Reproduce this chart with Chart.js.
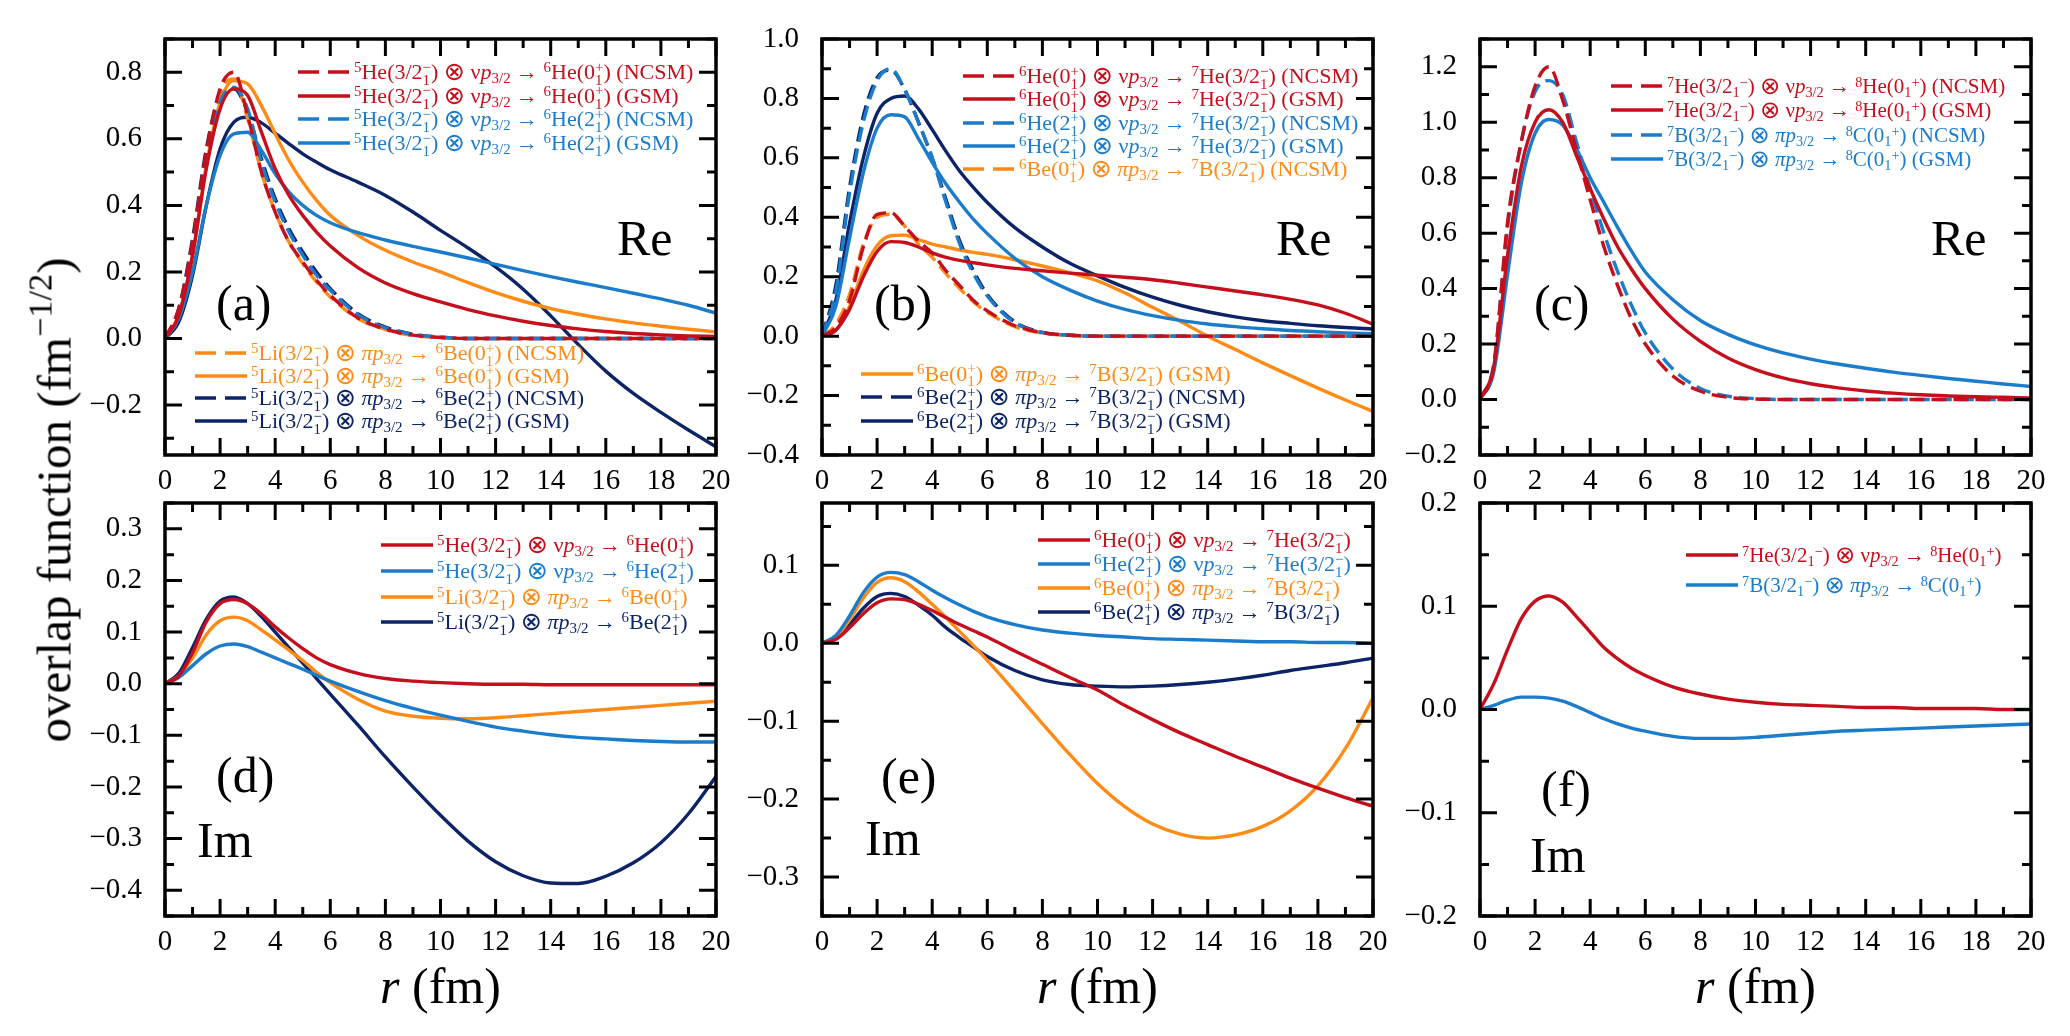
<!DOCTYPE html>
<html>
<head>
<meta charset="utf-8">
<title>overlap functions</title>
<script src="https://cdn.jsdelivr.net/npm/chart.js@4.4.1/dist/chart.umd.min.js"></script>
<style>
  body { margin: 0; background: #fff; }
  #fig { position: relative; width: 2070px; height: 1036px; overflow: hidden; background: #fff;
         font-family: 'Liberation Serif', 'Times New Roman', serif; color: #000; }
  .box { position: absolute; }
  .txt { position: absolute; white-space: nowrap; }
  .big { font-size: 50px; line-height: 50px; }
  .row { position: absolute; white-space: nowrap; font-size: 22px; line-height: 24px; height: 24px; }
  .row.sm { font-size: 21px; }
  .row svg { position: absolute; left: 0; top: 9px; }
  .row .t { position: absolute; top: 0px; }
  .ot { font-family: 'DejaVu Sans', sans-serif; font-size: 1.15em; line-height: 0; vertical-align: -0.05em; }
  sup, sub { font-size: 0.68em; line-height: 0; }
  sup { vertical-align: 0.45em; }
  sub { vertical-align: -0.3em; }
  .stk { display: inline-flex; flex-direction: column; font-size: 0.68em; line-height: 0.9; vertical-align: 0.5em; }
  #ytitle { font-size: 49px; line-height: 49px; transform: translate(-50%, -50%) rotate(-90deg); }
  #ytitle sup { font-size: 0.7em; vertical-align: 0.55em; }
</style>
</head>
<body>
<div id="fig"></div>
<script>
// radial grid (fm)
const r = [0, 0.5, 1, 1.5, 2, 2.5, 3, 3.5, 4, 4.5, 5, 5.5, 6, 7, 8, 9, 10, 11, 12, 13, 14, 15, 16, 17, 18, 19, 20];

// (a) 5He/5Li -> 6He/6Be, real part
const aHe0N = [0, 0.09, 0.29, 0.56, 0.75, 0.80, 0.67, 0.50, 0.38, 0.29, 0.23, 0.175, 0.13, 0.062, 0.028, 0.01, 0.003, 0, 0, 0, 0, 0, 0, 0, 0, 0, 0];
const aHe0G = [0, 0.07, 0.25, 0.51, 0.69, 0.75, 0.73, 0.62, 0.51, 0.43, 0.37, 0.32, 0.278, 0.213, 0.167, 0.135, 0.11, 0.087, 0.068, 0.052, 0.039, 0.029, 0.021, 0.015, 0.011, 0.008, 0.006];
const aHe2N = [0, 0.08, 0.28, 0.54, 0.71, 0.755, 0.69, 0.53, 0.41, 0.32, 0.25, 0.19, 0.145, 0.072, 0.032, 0.012, 0.004, 0, 0, 0, 0, 0, 0, 0, 0, 0, 0];
const aHe2G = [0, 0.06, 0.2, 0.4, 0.55, 0.615, 0.62, 0.565, 0.495, 0.44, 0.4, 0.37, 0.348, 0.318, 0.296, 0.277, 0.26, 0.242, 0.223, 0.204, 0.186, 0.169, 0.153, 0.136, 0.119, 0.1, 0.076];
const aLi0N = [0, 0.08, 0.28, 0.55, 0.74, 0.78, 0.66, 0.50, 0.38, 0.29, 0.225, 0.17, 0.125, 0.06, 0.027, 0.009, 0.003, 0, 0, 0, 0, 0, 0, 0, 0, 0, 0];
const aLi0G = [0, 0.07, 0.25, 0.52, 0.71, 0.775, 0.765, 0.7, 0.615, 0.535, 0.47, 0.415, 0.37, 0.31, 0.265, 0.23, 0.2, 0.168, 0.138, 0.112, 0.09, 0.073, 0.059, 0.047, 0.037, 0.028, 0.02];
const aLi2N = [0, 0.09, 0.3, 0.57, 0.73, 0.75, 0.68, 0.54, 0.42, 0.33, 0.26, 0.2, 0.15, 0.075, 0.034, 0.013, 0.004, 0, 0, 0, 0, 0, 0, 0, 0, 0, 0];
const aLi2G = [0, 0.05, 0.19, 0.4, 0.57, 0.65, 0.665, 0.648, 0.617, 0.585, 0.555, 0.53, 0.507, 0.47, 0.43, 0.38, 0.325, 0.272, 0.215, 0.148, 0.068, -0.018, -0.098, -0.165, -0.222, -0.275, -0.325];

// (b) 6He/6Be -> 7He/7B, real part
const bHe0N = [0, 0.03, 0.12, 0.3, 0.41, 0.415, 0.37, 0.32, 0.28, 0.22, 0.17, 0.12, 0.085, 0.035, 0.012, 0.003, 0, 0, 0, 0, 0, 0, 0, 0, 0, 0, 0];
const bHe0G = [0, 0.02, 0.09, 0.2, 0.285, 0.318, 0.315, 0.3, 0.28, 0.265, 0.255, 0.247, 0.24, 0.228, 0.22, 0.212, 0.205, 0.198, 0.19, 0.178, 0.165, 0.152, 0.139, 0.124, 0.105, 0.077, 0.04];
const bHe2N = [0, 0.15, 0.48, 0.72, 0.86, 0.9, 0.83, 0.72, 0.6, 0.45, 0.31, 0.21, 0.135, 0.045, 0.012, 0.003, 0, 0, 0, 0, 0, 0, 0, 0, 0, 0, 0];
const bHe2G = [0, 0.1, 0.33, 0.55, 0.7, 0.745, 0.738, 0.665, 0.585, 0.512, 0.45, 0.393, 0.345, 0.262, 0.2, 0.155, 0.118, 0.09, 0.069, 0.053, 0.041, 0.032, 0.025, 0.019, 0.015, 0.011, 0.008];
const bBe0N = [0, 0.04, 0.14, 0.31, 0.40, 0.41, 0.37, 0.31, 0.265, 0.21, 0.16, 0.115, 0.08, 0.032, 0.01, 0.003, 0, 0, 0, 0, 0, 0, 0, 0, 0, 0, 0];
const bBe0G = [0, 0.02, 0.1, 0.22, 0.305, 0.338, 0.34, 0.325, 0.31, 0.3, 0.29, 0.282, 0.275, 0.257, 0.236, 0.213, 0.186, 0.145, 0.097, 0.05, 0.0, -0.045, -0.09, -0.133, -0.175, -0.215, -0.253];
const bBe2N = [0, 0.17, 0.5, 0.74, 0.87, 0.895, 0.83, 0.72, 0.6, 0.46, 0.32, 0.22, 0.14, 0.048, 0.013, 0.003, 0, 0, 0, 0, 0, 0, 0, 0, 0, 0, 0];
const bBe2G = [0, 0.12, 0.38, 0.6, 0.75, 0.8, 0.808, 0.765, 0.695, 0.622, 0.555, 0.5, 0.45, 0.365, 0.3, 0.245, 0.203, 0.164, 0.131, 0.104, 0.082, 0.065, 0.052, 0.043, 0.035, 0.029, 0.024];

// (c) 7He/7B -> 8He/8C, real part
const cHe0N = [0, 0.12, 0.64, 0.93, 1.13, 1.2, 1.08, 0.9, 0.72, 0.55, 0.41, 0.29, 0.2, 0.085, 0.03, 0.008, 0.002, 0, 0, 0, 0, 0, 0, 0, 0, 0, 0];
const cHe0G = [0, 0.12, 0.52, 0.84, 1.0, 1.045, 1.0, 0.88, 0.76, 0.65, 0.55, 0.47, 0.4, 0.29, 0.21, 0.15, 0.108, 0.078, 0.057, 0.042, 0.031, 0.023, 0.017, 0.013, 0.01, 0.008, 0.006];
const cB0N = [0, 0.13, 0.62, 0.93, 1.11, 1.15, 1.1, 0.93, 0.76, 0.6, 0.46, 0.34, 0.24, 0.11, 0.04, 0.012, 0.003, 0, 0, 0, 0, 0, 0, 0, 0, 0, 0];
const cB0G = [0, 0.1, 0.45, 0.78, 0.96, 1.01, 0.99, 0.905, 0.8, 0.71, 0.62, 0.535, 0.46, 0.36, 0.285, 0.235, 0.197, 0.168, 0.146, 0.128, 0.113, 0.099, 0.087, 0.076, 0.066, 0.056, 0.047];

// (d) imaginary part, 5He/5Li
const dHe0 = [0, 0.015, 0.06, 0.12, 0.155, 0.163, 0.155, 0.135, 0.11, 0.088, 0.068, 0.05, 0.037, 0.02, 0.01, 0.005, 0.002, 0, -0.001, -0.001, -0.002, -0.002, -0.002, -0.002, -0.002, -0.002, -0.002];
const dHe2 = [0, 0.012, 0.035, 0.058, 0.073, 0.077, 0.072, 0.061, 0.05, 0.039, 0.028, 0.016, 0.005, -0.015, -0.033, -0.048, -0.061, -0.073, -0.084, -0.092, -0.099, -0.104, -0.107, -0.11, -0.112, -0.113, -0.113];
const dLi0 = [0, 0.015, 0.05, 0.095, 0.122, 0.129, 0.122, 0.104, 0.085, 0.065, 0.045, 0.022, 0.002, -0.03, -0.053, -0.063, -0.067, -0.068, -0.066, -0.062, -0.058, -0.054, -0.05, -0.046, -0.042, -0.038, -0.034];
const dLi2 = [0, 0.02, 0.07, 0.125, 0.16, 0.168, 0.155, 0.13, 0.1, 0.07, 0.04, 0.01, -0.02, -0.08, -0.142, -0.2, -0.255, -0.305, -0.345, -0.372, -0.386, -0.387, -0.373, -0.347, -0.308, -0.252, -0.18];

// (e) imaginary part, 6He/6Be
const eHe0 = [0, 0.005, 0.02, 0.038, 0.052, 0.057, 0.056, 0.05, 0.042, 0.033, 0.024, 0.016, 0.008, -0.01, -0.027, -0.044, -0.06, -0.08, -0.098, -0.115, -0.13, -0.145, -0.159, -0.173, -0.186, -0.198, -0.209];
const eHe2 = [0, 0.01, 0.035, 0.065, 0.085, 0.091, 0.088, 0.079, 0.068, 0.058, 0.049, 0.041, 0.034, 0.024, 0.017, 0.013, 0.01, 0.008, 0.006, 0.005, 0.004, 0.003, 0.002, 0.002, 0.001, 0.001, 0.0];
const eBe0 = [0, 0.008, 0.03, 0.058, 0.078, 0.084, 0.079, 0.066, 0.05, 0.033, 0.015, -0.003, -0.022, -0.062, -0.103, -0.143, -0.18, -0.21, -0.232, -0.245, -0.25, -0.246, -0.235, -0.215, -0.183, -0.135, -0.07];
const eBe2 = [0, 0.006, 0.024, 0.045, 0.06, 0.064, 0.06, 0.049, 0.036, 0.02, 0.007, -0.005, -0.017, -0.035, -0.047, -0.053, -0.055, -0.056, -0.055, -0.053, -0.05, -0.046, -0.041, -0.035, -0.03, -0.025, -0.019];

// (f) imaginary part, 7He/7B
const fHe0 = [0, 0.025, 0.058, 0.088, 0.105, 0.11, 0.104, 0.09, 0.075, 0.06, 0.049, 0.04, 0.033, 0.022, 0.015, 0.01, 0.007, 0.005, 0.004, 0.003, 0.002, 0.002, 0.001, 0.001, 0.001, 0, 0];
const fB0 = [0, 0.004, 0.009, 0.012, 0.012, 0.011, 0.008, 0.003, -0.003, -0.009, -0.014, -0.018, -0.021, -0.026, -0.028, -0.028, -0.027, -0.025, -0.023, -0.021, -0.02, -0.019, -0.018, -0.017, -0.016, -0.015, -0.014];

// tick labels
const xTicks = [0, 2, 4, 6, 8, 10, 12, 14, 16, 18, 20];
const yTicksA = [-0.2, 0, 0.2, 0.4, 0.6, 0.8];
const yTicksB = [-0.4, -0.2, 0, 0.2, 0.4, 0.6, 0.8, 1.0];
const yTicksC = [-0.2, 0, 0.2, 0.4, 0.6, 0.8, 1.0, 1.2];
const yTicksD = [-0.4, -0.3, -0.2, -0.1, 0, 0.1, 0.2, 0.3];
const yTicksE = [-0.3, -0.2, -0.1, 0, 0.1];
const yTicksF = [-0.2, -0.1, 0, 0.1, 0.2];

const RED = '#c50f1c', BLUE = '#1c7ccc', ORANGE = '#ff8b17', NAVY = '#0c2467';

// label markup helpers
const iso = (a, s) => '<sup>' + a + '</sup>' + s;
const st = (j, p) => j + '<span class="stk"><span>' + p + '</span><span>1</span></span>';
const sq = (j, p) => j + '<sub>1</sub><sup>' + p + '</sup>';
const NU = ' <span class="ot">⊗</span> ν<i>p</i><sub>3/2</sub> → ';
const PI = ' <span class="ot">⊗</span> <i>π</i><i>p</i><sub>3/2</sub> → ';

const He5 = iso(5, 'He') + '(' + st('3/2', '−') + ')';
const Li5 = iso(5, 'Li') + '(' + st('3/2', '−') + ')';
const He6_0 = iso(6, 'He') + '(' + st('0', '+') + ')';
const He6_2 = iso(6, 'He') + '(' + st('2', '+') + ')';
const Be6_0 = iso(6, 'Be') + '(' + st('0', '+') + ')';
const Be6_2 = iso(6, 'Be') + '(' + st('2', '+') + ')';
const He7 = iso(7, 'He') + '(' + st('3/2', '−') + ')';
const B7 = iso(7, 'B') + '(' + st('3/2', '−') + ')';
const He7c = iso(7, 'He') + '(' + sq('3/2', '−') + ')';
const B7c = iso(7, 'B') + '(' + sq('3/2', '−') + ')';
const He8 = iso(8, 'He') + '(' + sq('0', '+') + ')';
const C8 = iso(8, 'C') + '(' + sq('0', '+') + ')';

const panels = [
  { L: 165, T: 39, W: 551, H: 416, yMin: -0.35, yMax: 0.9, yTicks: yTicksA, minor: 0.1,
    series: [
      { d: aHe0N, c: RED, dash: true, t: He5 + NU + He6_0 + ' (NCSM)' },
      { d: aHe0G, c: RED, t: He5 + NU + He6_0 + ' (GSM)' },
      { d: aHe2N, c: BLUE, dash: true, t: He5 + NU + He6_2 + ' (NCSM)' },
      { d: aHe2G, c: BLUE, t: He5 + NU + He6_2 + ' (GSM)' },
      { d: aLi0N, c: ORANGE, dash: true, t: Li5 + PI + Be6_0 + ' (NCSM)' },
      { d: aLi0G, c: ORANGE, t: Li5 + PI + Be6_0 + ' (GSM)' },
      { d: aLi2N, c: NAVY, dash: true, t: Li5 + PI + Be6_2 + ' (NCSM)' },
      { d: aLi2G, c: NAVY, t: Li5 + PI + Be6_2 + ' (GSM)' }
    ],
    legends: [{ x: 298, y: 72, dy: 23.7, items: [0, 1, 2, 3] }, { x: 195, y: 353, dy: 22.7, items: [4, 5, 6, 7] }] },
  { L: 822, T: 39, W: 551, H: 416, yMin: -0.4, yMax: 1.0, yTicks: yTicksB, minor: 0.1,
    series: [
      { d: bHe0N, c: RED, dash: true, t: He6_0 + NU + He7 + ' (NCSM)' },
      { d: bHe0G, c: RED, t: He6_0 + NU + He7 + ' (GSM)' },
      { d: bHe2N, c: BLUE, dash: true, t: He6_2 + NU + He7 + ' (NCSM)' },
      { d: bHe2G, c: BLUE, t: He6_2 + NU + He7 + ' (GSM)' },
      { d: bBe0N, c: ORANGE, dash: true, t: Be6_0 + PI + B7 + ' (NCSM)' },
      { d: bBe0G, c: ORANGE, t: Be6_0 + PI + B7 + ' (GSM)' },
      { d: bBe2N, c: NAVY, dash: true, t: Be6_2 + PI + B7 + ' (NCSM)' },
      { d: bBe2G, c: NAVY, t: Be6_2 + PI + B7 + ' (GSM)' }
    ],
    legends: [{ x: 963, y: 76, dy: 23.3, items: [0, 1, 2, 3, 4] }, { x: 861, y: 373.5, dy: 23.8, items: [5, 6, 7] }] },
  { L: 1480, T: 39, W: 551, H: 416, yMin: -0.2, yMax: 1.3, yTicks: yTicksC, minor: 0.1,
    series: [
      { d: cHe0N, c: RED, dash: true, t: He7c + NU + He8 + ' (NCSM)' },
      { d: cHe0G, c: RED, t: He7c + NU + He8 + ' (GSM)' },
      { d: cB0N, c: BLUE, dash: true, t: B7c + PI + C8 + ' (NCSM)' },
      { d: cB0G, c: BLUE, t: B7c + PI + C8 + ' (GSM)' }
    ],
    legends: [{ x: 1611, y: 86, dy: 24.3, small: true, items: [0, 1, 2, 3] }] },
  { L: 165, T: 503, W: 551, H: 413, yMin: -0.45, yMax: 0.35, yTicks: yTicksD, minor: 0.05,
    series: [
      { d: dHe0, c: RED, t: He5 + NU + He6_0 },
      { d: dHe2, c: BLUE, t: He5 + NU + He6_2 },
      { d: dLi0, c: ORANGE, t: Li5 + PI + Be6_0 },
      { d: dLi2, c: NAVY, t: Li5 + PI + Be6_2 }
    ],
    legends: [{ x: 381, y: 545, dy: 25.8, items: [0, 1, 2, 3] }] },
  { L: 822, T: 503, W: 551, H: 413, yMin: -0.35, yMax: 0.18, yTicks: yTicksE, minor: 0.05,
    series: [
      { d: eHe0, c: RED, t: He6_0 + NU + He7 },
      { d: eHe2, c: BLUE, t: He6_2 + NU + He7 },
      { d: eBe0, c: ORANGE, t: Be6_0 + PI + B7 },
      { d: eBe2, c: NAVY, t: Be6_2 + PI + B7 }
    ],
    legends: [{ x: 1038, y: 540, dy: 24, items: [0, 1, 2, 3] }] },
  { L: 1480, T: 503, W: 551, H: 413, yMin: -0.2, yMax: 0.2, yTicks: yTicksF, minor: 0.05,
    series: [
      { d: fHe0, c: RED, t: He7c + NU + He8 },
      { d: fB0, c: BLUE, t: B7c + PI + C8 }
    ],
    legends: [{ x: 1686, y: 555, dy: 29.5, small: true, items: [0, 1] }] }
];

const fig = document.getElementById('fig');
Chart.defaults.font.family = "'Liberation Serif', 'Times New Roman', serif";
Chart.defaults.color = '#000';

const near = (a, b) => Math.abs(a - b) < 1e-9;
function minorVals(min, max, step, majors) {
  const out = [];
  for (let k = Math.ceil(min / step - 1e-9); k * step <= max + 1e-9; k++) {
    const v = +(k * step).toFixed(4);
    if (!majors.some(m => near(m, v))) out.push(v);
  }
  return out;
}
const fmtY = v => (near(v, 0) ? '0.0' : (v < 0 ? '\u2212' : '') + Math.abs(v).toFixed(1));

// frame + inward ticks on all four sides
const frameTicks = {
  id: 'frameTicks',
  afterDraw(chart, args, o) {
    const { ctx, chartArea: a, scales: { x, y } } = chart;
    ctx.save();
    ctx.strokeStyle = '#000';
    ctx.lineWidth = 3;
    ctx.beginPath();
    const xt = (v, len) => {
      const px = x.getPixelForValue(v);
      ctx.moveTo(px, a.bottom); ctx.lineTo(px, a.bottom - len);
      ctx.moveTo(px, a.top); ctx.lineTo(px, a.top + len);
    };
    const yt = (v, len) => {
      const py = y.getPixelForValue(v);
      ctx.moveTo(a.left, py); ctx.lineTo(a.left + len, py);
      ctx.moveTo(a.right, py); ctx.lineTo(a.right - len, py);
    };
    xTicks.forEach(v => xt(v, 17));
    minorVals(0, 20, 1, xTicks).forEach(v => xt(v, 9));
    o.yTicks.forEach(v => yt(v, 17));
    minorVals(o.yMin, o.yMax, o.minor, o.yTicks).forEach(v => yt(v, 9));
    ctx.stroke();
    ctx.lineWidth = 3.5;
    ctx.strokeRect(a.left, a.top, a.width, a.height);
    ctx.restore();
  }
};

const PADL = 110, PADT = 20, PADR = 25, PADB = 60;

panels.forEach(p => {
  const box = document.createElement('div');
  box.className = 'box';
  box.style.left = (p.L - PADL) + 'px';
  box.style.top = (p.T - PADT) + 'px';
  const cv = document.createElement('canvas');
  cv.width = p.W + PADL + PADR;
  cv.height = p.H + PADT + PADB;
  box.appendChild(cv);
  fig.appendChild(box);

  new Chart(cv, {
    type: 'line',
    data: {
      datasets: p.series.map(s => ({
        data: r.map((x, i) => ({ x: x, y: s.d[i] })),
        borderColor: s.c,
        borderWidth: 3.4,
        borderDash: s.dash ? [15, 7] : [],
        pointRadius: 0,
        fill: false,
        cubicInterpolationMode: 'monotone'
      }))
    },
    options: {
      responsive: false,
      animation: false,
      events: [],
      layout: { padding: { top: PADT, right: PADR, bottom: 0, left: 0 } },
      plugins: {
        legend: { display: false },
        tooltip: { enabled: false },
        frameTicks: { yTicks: p.yTicks, yMin: p.yMin, yMax: p.yMax, minor: p.minor }
      },
      scales: {
        x: {
          type: 'linear', min: 0, max: 20,
          grid: { display: false, drawTicks: false, tickLength: 0 },
          border: { display: false },
          afterBuildTicks: s => { s.ticks = xTicks.map(v => ({ value: v })); },
          afterFit: s => { s.height = PADB; s.paddingLeft = s.paddingRight = 0; },
          ticks: { font: { size: 29 }, padding: 9, maxRotation: 0, autoSkip: false, callback: v => String(v) }
        },
        y: {
          type: 'linear', min: p.yMin, max: p.yMax,
          grid: { display: false, drawTicks: false, tickLength: 0 },
          border: { display: false },
          afterBuildTicks: s => { s.ticks = p.yTicks.map(v => ({ value: v })); },
          afterFit: s => { s.width = PADL; s.paddingTop = s.paddingBottom = 0; },
          ticks: { font: { size: 29 }, padding: 23, autoSkip: false, callback: v => fmtY(v) }
        }
      }
    },
    plugins: [frameTicks]
  });

  // HTML legend rows (line sample + rich label)
  p.legends.forEach(g => {
    g.items.forEach((k, i) => {
      const s = p.series[k];
      const cy = g.y + i * g.dy;
      const row = document.createElement('div');
      row.className = g.small ? 'row sm' : 'row';
      row.style.left = g.x + 'px';
      row.style.top = (cy - 12) + 'px';
      row.innerHTML =
        '<svg width="52" height="6"><line x1="0" y1="3" x2="52" y2="3" stroke="' + s.c +
        '" stroke-width="3.5"' + (s.dash ? ' stroke-dasharray="21 9"' : '') + '/></svg>' +
        '<span class="t" style="left:56px;color:' + s.c + '">' + s.t + '</span>';
      fig.appendChild(row);
    });
  });
});

// panel tags and Re / Im marks
const tags = [
  ['(a)', 216, 278], ['Re', 617, 213], ['(b)', 874, 278], ['Re', 1276, 213], ['(c)', 1534, 278], ['Re', 1931, 213],
  ['(d)', 216, 750], ['Im', 197, 815], ['(e)', 881, 751], ['Im', 865, 813], ['(f)', 1541, 764], ['Im', 1530, 830]
];
tags.forEach(([t, x, y]) => {
  const el = document.createElement('div');
  el.className = 'txt big';
  el.style.left = x + 'px';
  el.style.top = y + 'px';
  el.textContent = t;
  fig.appendChild(el);
});

// axis titles
[440.5, 1097.5, 1755.5].forEach(cx => {
  const el = document.createElement('div');
  el.className = 'txt big';
  el.style.left = cx + 'px';
  el.style.top = '961px';
  el.style.transform = 'translateX(-50%)';
  el.innerHTML = '<i>r</i> (fm)';
  fig.appendChild(el);
});
const yt = document.createElement('div');
yt.id = 'ytitle';
yt.className = 'txt';
yt.style.left = '54px';
yt.style.top = '500px';
yt.innerHTML = 'overlap function (fm<sup>\u22121/2</sup>)';
fig.appendChild(yt);
</script>
</body>
</html>
